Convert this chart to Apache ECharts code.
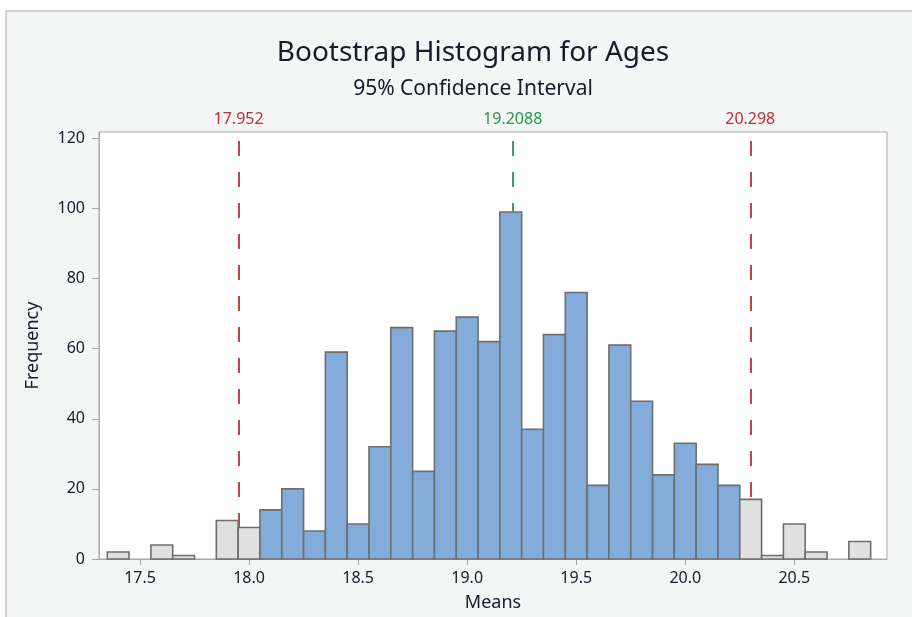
<!DOCTYPE html>
<html>
<head>
<meta charset="utf-8">
<script src="https://cdn.jsdelivr.net/npm/echarts@6/dist/echarts.min.js"></script>
<style>
  html, body { margin: 0; padding: 0; background: #ffffff; }
  #frame { position: absolute; left: 5px; top: 10px; width: 907px; height: 607px; background: #f4f5f5; border-top: 2px solid #d2d2d2; border-left: 2px solid #d2d2d2; box-sizing: border-box; }
  #chart { position: absolute; left: 0; top: 0; width: 912px; height: 617px; }
</style>
</head>
<body>
<div id="frame"></div>
<div id="chart"></div>
<script>
// Bin midpoints (bin width 0.1) and bootstrap frequencies
const binMids = [17.4, 17.5, 17.6, 17.7, 17.8, 17.9, 18.0, 18.1, 18.2, 18.3, 18.4, 18.5, 18.6, 18.7, 18.8, 18.9,
                 19.0, 19.1, 19.2, 19.3, 19.4, 19.5, 19.6, 19.7, 19.8, 19.9, 20.0, 20.1, 20.2, 20.3, 20.4, 20.5,
                 20.6, 20.7, 20.8];
const freqs = [2, 0, 4, 1, 0, 11, 9, 14, 20, 8, 59, 10, 32, 66, 25, 65,
               69, 62, 99, 37, 64, 76, 21, 61, 45, 24, 33, 27, 21, 17, 1, 10,
               2, 0, 5];
const binWidth = 0.1;
const ciLow = 17.952;
const ciMid = 19.2088;
const ciHigh = 20.298;
const xTicks = [17.5, 18.0, 18.5, 19.0, 19.5, 20.0, 20.5];
const yTicks = [0, 20, 40, 60, 80, 100, 120];

const RED = '#b8323a';
const GREEN = '#23994f';
const FONT = 'Noto Sans';
const TXT = '#1a1a2a';

const chart = echarts.init(document.getElementById('chart'), null, { renderer: 'canvas' });
const data = binMids.map((m, i) => [m, freqs[i]]);

const option = {
  animation: false,
  title: [
    { text: 'Bootstrap Histogram for Ages', left: 468, top: 34, textAlign: 'center',
      textStyle: { fontFamily: FONT, fontSize: 28, fontWeight: 'normal', color: TXT } },
    { text: '95% Confidence Interval', left: 468, top: 74, textAlign: 'center',
      textStyle: { fontFamily: FONT, fontSize: 21, fontWeight: 'normal', color: TXT } }
  ],
  grid: { left: 99, right: 25, top: 132, bottom: 56, show: true, backgroundColor: '#ffffff',
          borderColor: '#a8a8a8', borderWidth: 1 },
  xAxis: {
    type: 'value', min: 17.312, max: 20.925,
    name: 'Means', nameLocation: 'middle', nameGap: 35,
    nameTextStyle: { fontFamily: FONT, fontSize: 18, color: TXT },
    axisLine: { show: true, lineStyle: { color: '#a8a8a8' } },
    axisTick: { show: true, length: 6, customValues: xTicks, lineStyle: { color: '#a8a8a8' } },
    axisLabel: { customValues: xTicks, fontFamily: FONT, fontSize: 16, color: TXT, margin: 11,
                 formatter: v => v.toFixed(1) },
    splitLine: { show: false }
  },
  yAxis: {
    type: 'value', min: 0, max: 121.8,
    name: 'Frequency', nameLocation: 'middle', nameGap: 57, nameRotate: 90,
    nameTextStyle: { fontFamily: FONT, fontSize: 18, color: TXT },
    axisLine: { show: true, lineStyle: { color: '#a8a8a8' } },
    axisTick: { show: true, length: 7, customValues: yTicks, lineStyle: { color: '#a8a8a8' } },
    axisLabel: { customValues: yTicks, fontFamily: FONT, fontSize: 16, color: TXT, margin: 14 },
    splitLine: { show: false }
  },
  series: [
    {
      type: 'line', data: [], z: 1,
      markLine: {
        z: 1, precision: 4,
        silent: true, symbol: 'none', animation: false,
        lineStyle: { type: [15, 16], width: 1.8 },
        label: { position: 'end', distance: 5, fontFamily: FONT, fontSize: 16 },
        data: [
          { xAxis: ciLow, lineStyle: { color: RED }, label: { color: RED } },
          { xAxis: ciMid, lineStyle: { color: GREEN }, label: { color: GREEN } },
          { xAxis: ciHigh, lineStyle: { color: RED }, label: { color: RED } }
        ]
      }
    },
    {
      type: 'custom', z: 3, data: data,
      renderItem: function (params, api) {
        const mid = api.value(0), v = api.value(1);
        if (!v) return null;
        const lo = mid - binWidth / 2, hi = mid + binWidth / 2;
        const p0 = api.coord([lo, 0]);
        const p1 = api.coord([hi, v]);
        const inside = lo >= ciLow - 1e-9 && hi <= ciHigh + 1e-9;
        return {
          type: 'rect',
          shape: { x: p0[0], y: p1[1], width: p1[0] - p0[0], height: p0[1] - p1[1] },
          style: { fill: inside ? '#84acdb' : '#e0e0e0', stroke: '#6e6e6e', lineWidth: 1.6 }
        };
      }
    }
  ]
};
chart.setOption(option);
</script>
</body>
</html>
